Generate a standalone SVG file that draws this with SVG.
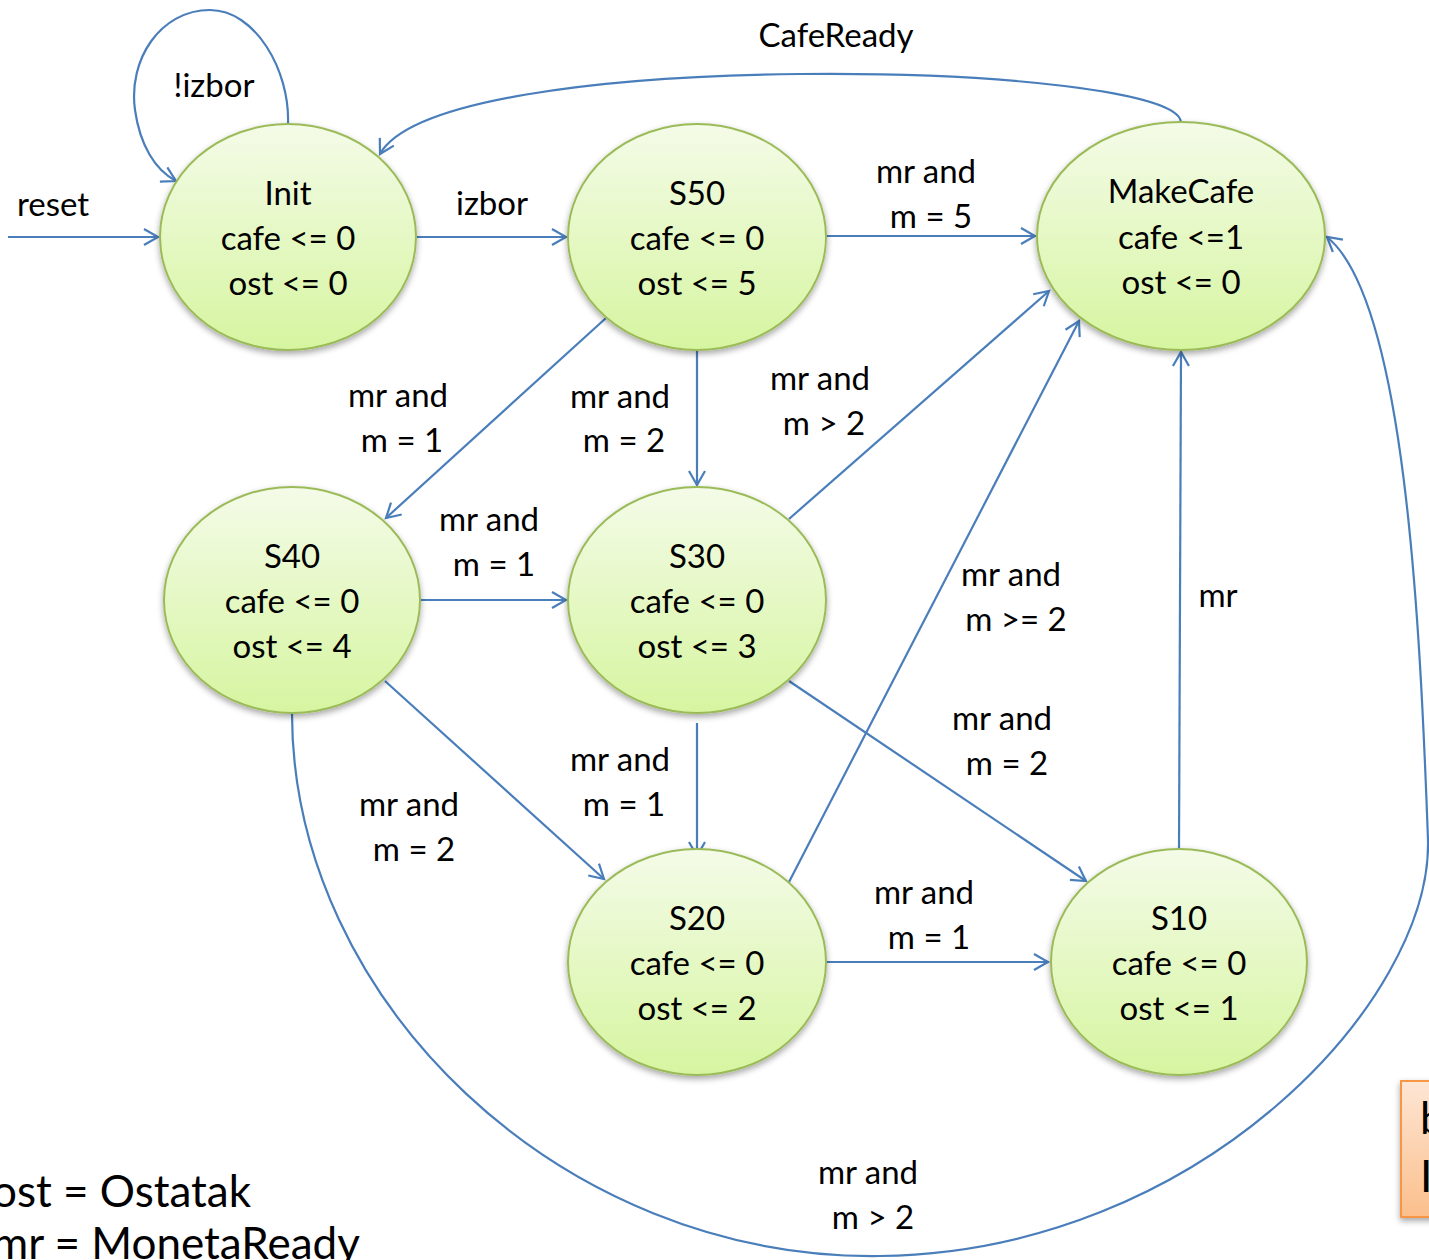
<svg xmlns="http://www.w3.org/2000/svg" width="1429" height="1260" viewBox="0 0 1429 1260">
<style>
.node{fill:url(#ng);stroke:#9bbb59;stroke-width:2;filter:url(#sh)}
.nt{font-family:Lato,"Liberation Sans",sans-serif;font-size:33px;fill:#000;text-anchor:middle}
.lbl{font-family:Lato,"Liberation Sans",sans-serif;font-size:33px;fill:#000;text-anchor:middle}
.edge{fill:none;stroke:#4a7ebb;stroke-width:2.2;marker-end:url(#ar)}
.big{font-family:Lato,"Liberation Sans",sans-serif;font-size:44px;fill:#000}
</style>
<defs>
<linearGradient id="ng" x1="0" y1="0" x2="0" y2="1">
<stop offset="0" stop-color="#f4fbe8"/>
<stop offset="1" stop-color="#d6f5a0"/>
</linearGradient>
<linearGradient id="og" x1="0" y1="0" x2="0" y2="1">
<stop offset="0" stop-color="#fde6d4"/>
<stop offset="1" stop-color="#fbbf8c"/>
</linearGradient>
<filter id="sh" x="-20%" y="-20%" width="140%" height="150%">
<feDropShadow dx="0" dy="3" stdDeviation="3" flood-color="#000" flood-opacity="0.35"/>
</filter>
<marker id="ar" viewBox="-16 -10 20 20" refX="0" refY="0" markerWidth="20" markerHeight="20" markerUnits="userSpaceOnUse" orient="auto">
<path d="M -14 -8 L 0 0 L -14 8" fill="none" stroke="#4a7ebb" stroke-width="2.2"/>
</marker>
</defs>
<rect width="1429" height="1260" fill="#fff"/>

<g id="connectors">
<path class="edge" d="M 8 237 L 158 237"/>
<path class="edge" d="M 288 124 C 290 70 255 10 210 10 C 160 10 128 60 135 110 C 140 145 155 170 176 181"/>
<path class="edge" d="M 417 237 L 566 237"/>
<path class="edge" d="M 826 236 L 1035 236"/>
<path class="edge" d="M 1181 122 C 1178 92 1000 72 800 74 C 600 76 410 100 380 154"/>
<path class="edge" d="M 606 318 L 386 518"/>
<path class="edge" d="M 697 350 L 697 485"/>
<path class="edge" d="M 789 519 L 1049 291"/>
<path class="edge" d="M 420 600 L 566 600"/>
<path class="edge" d="M 789 882 L 1079 321"/>
<path class="edge" d="M 1179 849 L 1181 352"/>
<path class="edge" d="M 789 681 L 1086 881"/>
<path class="edge" d="M 697 723 L 697 856"/>
<path class="edge" d="M 385 681 L 604 879"/>
<path class="edge" d="M 826 962 L 1048 962"/>
<path class="edge" d="M 292 713 C 292 1000 560 1260 880 1256 C 1200 1252 1432 1000 1428 840 C 1420 620 1405 300 1327 237"/>
</g>

<g id="edge-labels">
<text class="lbl" x="53" y="216">reset</text>
<text class="lbl" x="214" y="97">!izbor</text>
<text class="lbl" x="492" y="215">izbor</text>
<text class="lbl" x="926" y="183">mr and</text>
<text class="lbl" x="931" y="228">m = 5</text>
<text class="lbl" x="836" y="47">CafeReady</text>
<text class="lbl" x="398" y="407">mr and</text>
<text class="lbl" x="402" y="452">m = 1</text>
<text class="lbl" x="620" y="408">mr and</text>
<text class="lbl" x="624" y="452">m = 2</text>
<text class="lbl" x="820" y="390">mr and</text>
<text class="lbl" x="824" y="435">m &gt; 2</text>
<text class="lbl" x="489" y="531">mr and</text>
<text class="lbl" x="494" y="576">m = 1</text>
<text class="lbl" x="1011" y="586">mr and</text>
<text class="lbl" x="1016" y="631">m &gt;= 2</text>
<text class="lbl" x="1218" y="607">mr</text>
<text class="lbl" x="1002" y="730">mr and</text>
<text class="lbl" x="1007" y="775">m = 2</text>
<text class="lbl" x="620" y="771">mr and</text>
<text class="lbl" x="624" y="816">m = 1</text>
<text class="lbl" x="409" y="816">mr and</text>
<text class="lbl" x="414" y="861">m = 2</text>
<text class="lbl" x="924" y="904">mr and</text>
<text class="lbl" x="929" y="949">m = 1</text>
<text class="lbl" x="868" y="1184">mr and</text>
<text class="lbl" x="873" y="1229">m &gt; 2</text>
</g>

<g id="node-init">
<ellipse class="node" cx="288" cy="237" rx="128" ry="113"/>
<text class="nt" x="288" y="205">Init</text>
<text class="nt" x="288" y="250">cafe &lt;= 0</text>
<text class="nt" x="288" y="295">ost &lt;= 0</text>
</g>
<g id="node-s50">
<ellipse class="node" cx="697" cy="237" rx="129" ry="113"/>
<text class="nt" x="697" y="205">S50</text>
<text class="nt" x="697" y="250">cafe &lt;= 0</text>
<text class="nt" x="697" y="295">ost &lt;= 5</text>
</g>
<g id="node-makecafe">
<ellipse class="node" cx="1181" cy="236" rx="144" ry="114"/>
<text class="nt" x="1181" y="203">MakeCafe</text>
<text class="nt" x="1181" y="249">cafe &lt;=1</text>
<text class="nt" x="1181" y="294">ost &lt;= 0</text>
</g>
<g id="node-s40">
<ellipse class="node" cx="292" cy="600" rx="128" ry="113"/>
<text class="nt" x="292" y="568">S40</text>
<text class="nt" x="292" y="613">cafe &lt;= 0</text>
<text class="nt" x="292" y="658">ost &lt;= 4</text>
</g>
<g id="node-s30">
<ellipse class="node" cx="697" cy="600" rx="129" ry="113"/>
<text class="nt" x="697" y="568">S30</text>
<text class="nt" x="697" y="613">cafe &lt;= 0</text>
<text class="nt" x="697" y="658">ost &lt;= 3</text>
</g>
<g id="node-s20">
<ellipse class="node" cx="697" cy="962" rx="129" ry="113"/>
<text class="nt" x="697" y="930">S20</text>
<text class="nt" x="697" y="975">cafe &lt;= 0</text>
<text class="nt" x="697" y="1020">ost &lt;= 2</text>
</g>
<g id="node-s10">
<ellipse class="node" cx="1179" cy="962" rx="128" ry="113"/>
<text class="nt" x="1179" y="930">S10</text>
<text class="nt" x="1179" y="975">cafe &lt;= 0</text>
<text class="nt" x="1179" y="1020">ost &lt;= 1</text>
</g>

<g id="legend">
<text class="big" x="-8" y="1207">ost = Ostatak</text>
<text class="big" x="-8" y="1259">mr = MonetaReady</text>
</g>
<g id="note">
<rect x="1401" y="1081" width="40" height="136" fill="url(#og)" stroke="#f79646" stroke-width="2" filter="url(#sh)"/>
<text class="big" x="1420" y="1134">b</text>
<text class="big" x="1420" y="1192">I</text>
</g>
</svg>
